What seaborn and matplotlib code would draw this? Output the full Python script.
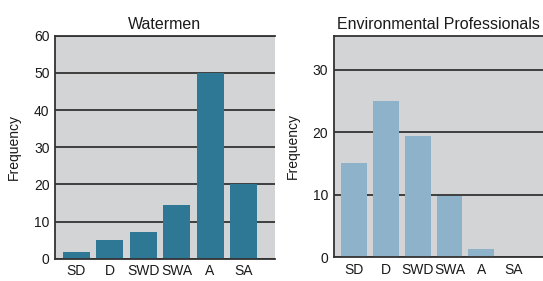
import pandas as pd
import matplotlib.pyplot as plt
import seaborn as sns

categories = ['SD', 'D', 'SWD', 'SWA', 'A', 'SA']
watermen = [1.8, 4.9, 7.2, 14.5, 50, 20]
professionals = [15.0, 25.0, 19.4, 9.7, 1.3, 0]

sns.set_style('white')
plt.rcParams['font.family'] = ['Liberation Sans', 'DejaVu Sans']

fig = plt.figure(figsize=(5.43, 2.81), dpi=100)
ax1 = fig.add_axes([0.1013, 0.0794, 0.405, 0.793])
ax2 = fig.add_axes([0.6145, 0.0854, 0.3855, 0.7866])

panels = [
    (ax1, watermen, '#2e7895', 'Watermen', (0, 60), [0, 10, 20, 30, 40, 50, 60]),
    (ax2, professionals, '#8fb2cb', 'Environmental Professionals', (0, 35.4), [0, 10, 20, 30]),
]

for ax, vals, color, title, ylim, yticks in panels:
    df = pd.DataFrame({'cat': categories, 'freq': vals})
    ax.set_facecolor('#d3d4d6')
    ax.set_axisbelow(True)
    ax.grid(axis='y', color='#333333', linewidth=1.3)
    sns.barplot(data=df, x='cat', y='freq', color=color, saturation=1,
                width=0.81, linewidth=0, ax=ax)
    ax.set_xlim(-0.64, 5.94)
    ax.set_ylim(*ylim)
    ax.set_yticks(yticks)
    ax.set_title(title, fontsize=11.5, pad=5, color='#1a1a1a')
    ax.set_xlabel('')
    ax.set_ylabel('Frequency', fontsize=10, labelpad=9, color='#1a1a1a')
    ax.tick_params(axis='both', labelsize=10, length=0, pad=4, colors='#1a1a1a')
    for side in ['left', 'bottom', 'top']:
        ax.spines[side].set_color('#333333')
        ax.spines[side].set_linewidth(1.3)
    ax.spines['right'].set_visible(False)

fig.savefig('out.png', dpi=100)
